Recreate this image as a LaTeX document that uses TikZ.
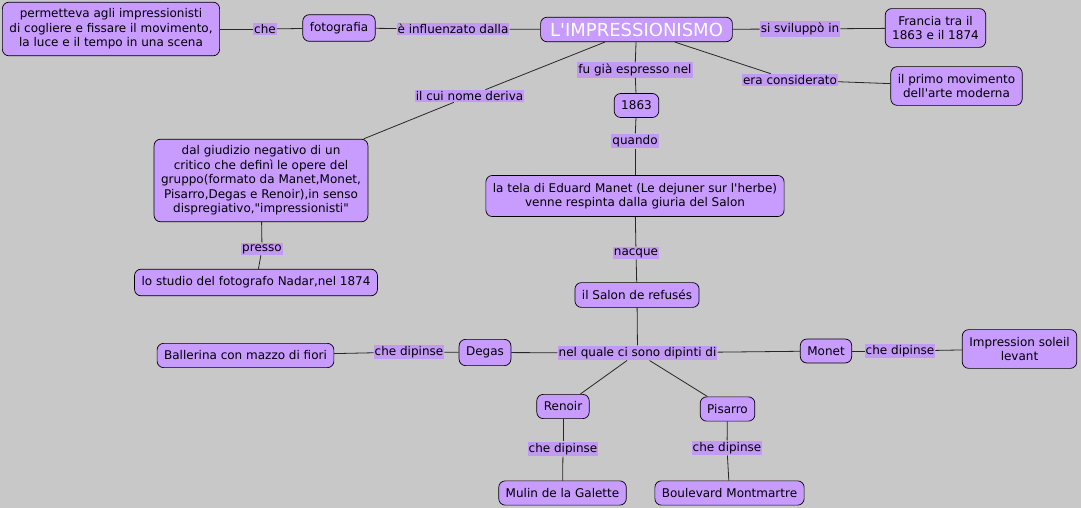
\documentclass[tikz,border=0pt]{standalone}
\usepackage{fontspec}
\setmainfont{DejaVu Sans}
\usetikzlibrary{positioning}

\definecolor{lilla}{RGB}{200,155,255}
\definecolor{lillalab}{RGB}{194,154,244}
\definecolor{sfondo}{RGB}{200,200,200}

\begin{document}
\begin{tikzpicture}[x=1pt,y=-1pt,
    concept/.style={draw,rounded corners=6.5pt,fill=lilla,align=center,inner xsep=7pt,inner ysep=7.5pt,line width=0.7pt,font=\fontsize{12}{14.5}\selectfont},
    link/.style={fill=lillalab,inner xsep=1pt,inner ysep=1.5pt,font=\fontsize{12}{14.5}\selectfont},
    line/.style={draw=black!85,line width=0.8pt}]

            % \draw [help lines] (0,0) grid (1081,508);
            \fill[sfondo] (0,0) rectangle (1081,508);
            \useasboundingbox (0,0) rectangle (1081,508);

            \path   (111,29) node (a) [concept,inner ysep=6.5pt] {permetteva agli impressionisti\\di cogliere e fissare il movimento,\\la luce e il tempo in una scena}
                    (339,28) node (b) [concept] {fotografia}
                    (636.5,29.5) node (c) [concept,text=white,inner xsep=9.5pt,inner ysep=5.5pt,font=\fontsize{18}{20}\selectfont] {L\textquotesingle IMPRESSIONISMO}
                    (935.5,28) node (d) [concept] {Francia tra il\\1863 e il 1874}
                    (956.5,86) node (e) [concept] {il primo movimento\\dell\textquotesingle arte moderna}
                    (636.5,105.5) node (f) [concept] {1863}
                    (261,180.5) node (g) [concept,inner ysep=6.5pt] {dal giudizio negativo di un\\critico che definì le opere del\\gruppo(formato da Manet,Monet,\\Pisarro,Degas e Renoir),in senso\\dispregiativo,\textquotedbl impressionisti\textquotedbl}
                    (256,282.5) node (h) [concept] {lo studio del fotografo Nadar,nel 1874}
                    (635,196) node (i) [concept] {la tela di Eduard Manet (Le dejuner sur l\textquotesingle herbe)\\venne respinta dalla giuria del Salon}
                    (637,295) node (j) [concept] {il Salon de refusés}

                    (245.5,355.5) node (k) [concept] {Ballerina con mazzo di fiori}
                    (485,352.5) node (l) [concept] {Degas}
                    (826,351) node (m) [concept] {Monet}
                    (1019.5,349) node (n) [concept] {Impression soleil\\levant}
                    (563,406.5) node (o) [concept] {Renoir}
                    (727.5,409) node (p) [concept] {Pisarro}
                    (562.5,493) node (q) [concept] {Mulin de la Galette}
                    (729.5,493) node (r) [concept] {Boulevard Montmartre};

            % parole di collegamento
            \path   (265,29) node (ab) [link] {che}
                    (453,29) node (bc) [link] {è influenzato dalla}
                    (800,29) node (cd) [link] {si sviluppò in}
                    (790,80) node (ce) [link] {era considerato}
                    (635,70) node (cf) [link] {fu già espresso nel}
                    (469.5,96) node (cg) [link] {il cui nome deriva}
                    (262,249) node (gh) [link] {presso}
                    (635,141) node (fi) [link] {quando}
                    (636,253) node (ij) [link] {nacque}
                    (637.5,353) node (jx) [link] {nel quale ci sono dipinti di}
                    (409,352) node (lk) [link] {che dipinse}
                    (900,351) node (mn) [link] {che dipinse}
                    (563,449) node (oq) [link] {che dipinse}
                    (727,448) node (pr) [link] {che dipinse};

            \draw[line] (a) -- (ab);
            \draw[line] (ab) -- (b);
            \draw[line] (b) -- (bc);
            \draw[line] (bc) -- (c);
            \draw[line] (c) -- (cd);
            \draw[line] (cd) -- (d);
            \draw[line] (c) -- (ce);
            \draw[line] (ce) -- (e);
            \draw[line] (c) -- (cf);
            \draw[line] (cf) -- (f);
            \draw[line] (c) -- (cg);
            \draw[line] (cg) -- (g);
            \draw[line] (g) -- (gh);
            \draw[line] (gh) -- (h);
            \draw[line] (f) -- (fi);
            \draw[line] (fi) -- (i);
            \draw[line] (i) -- (ij);
            \draw[line] (ij) -- (j);
            \draw[line] (j) -- (jx);

            \draw[line] (jx) -- (l);
            \draw[line] (l) -- (lk);
            \draw[line] (lk) -- (k);
            \draw[line] (jx) -- (m);
            \draw[line] (m) -- (mn);
            \draw[line] (mn) -- (n);
            \draw[line] (jx) -- (o);
            \draw[line] (o) -- (oq);
            \draw[line] (oq) -- (q);
            \draw[line] (jx) -- (p);
            \draw[line] (p) -- (pr);
            \draw[line] (pr) -- (r);
        \end{tikzpicture}
\end{document}
